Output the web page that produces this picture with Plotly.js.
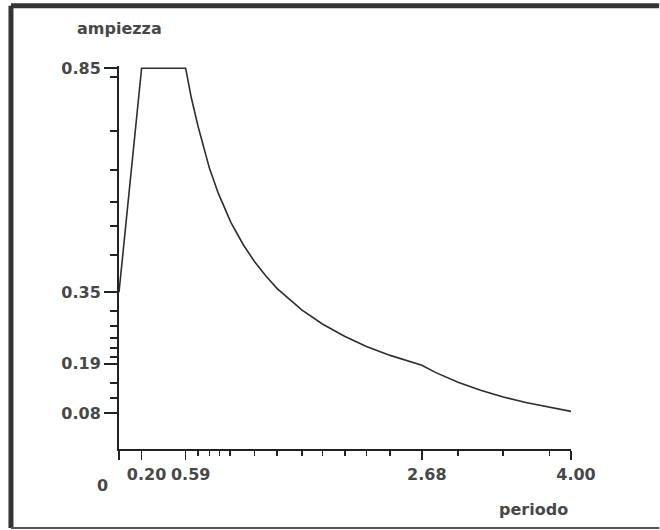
<!DOCTYPE html>
<html>
<head>
<meta charset="utf-8">
<script src="https://cdn.plot.ly/plotly-3.0.1.min.js"></script>
<style>
  html, body { margin: 0; padding: 0; background: #ffffff; }
  #chart { width: 660px; height: 530px; }
</style>
</head>
<body>
<div id="chart"></div>
<script>
// Period values (s)
const periodo = [0.00, 0.20, 0.59, 0.64, 0.70, 0.80, 0.88, 0.99, 1.10, 1.20, 1.30, 1.40, 1.62, 1.80, 2.00, 2.19, 2.40, 2.68, 2.80, 3.00, 3.20, 3.40, 3.60, 3.81, 4.00];
// Spectral amplitude
const ampiezza = [0.35, 0.85, 0.85, 0.784, 0.72, 0.627, 0.57, 0.506, 0.456, 0.418, 0.386, 0.358, 0.31, 0.279, 0.251, 0.229, 0.209, 0.187, 0.171, 0.149, 0.131, 0.116, 0.104, 0.093, 0.084];

// Axis ticks
const xTickVals = [0, 0.20, 0.59, 2.68, 4.00];
const xTickText = ['', '0.20', '0.59', '2.68', '4.00'];
const xMinorVals = [0.70, 0.80, 0.89, 0.98, 1.20, 1.40, 1.62, 1.80, 2.00, 2.19, 2.40, 3.00, 3.40, 3.81];
const yTickVals = [0.08, 0.19, 0.35, 0.85];
const yTickText = ['0.08', '0.19', '0.35', '0.85'];
const yMinorVals = [0.114, 0.147, 0.205, 0.225, 0.248, 0.275, 0.308, 0.433, 0.498, 0.551, 0.623, 0.71, 0.83];

const txtFont = { family: '"DejaVu Sans", Verdana, sans-serif', size: 16, color: '#484848', weight: 'bold' };

const trace = {
  x: periodo,
  y: ampiezza,
  type: 'scatter',
  mode: 'lines',
  line: { color: '#2e2e2e', width: 1.6 },
  hoverinfo: 'x+y'
};

const layout = {
  width: 660,
  height: 530,
  margin: { l: 119, r: 89, t: 66, b: 81 },
  paper_bgcolor: '#ffffff',
  plot_bgcolor: '#ffffff',
  showlegend: false,
  font: txtFont,
  xaxis: {
    range: [0, 4.0],
    showgrid: false,
    zeroline: false,
    showline: true,
    linecolor: '#222',
    linewidth: 2,
    ticks: 'outside',
    ticklen: 9,
    tickwidth: 1.6,
    tickcolor: '#222',
    tickmode: 'array',
    tickvals: xTickVals,
    ticktext: xTickText,
    tickfont: txtFont,
    ticklabelshift: 5,
    ticklabelstandoff: 1,
    minor: { tickmode: 'array', tickvals: xMinorVals, ticks: 'outside', ticklen: 5, tickwidth: 1.6, tickcolor: '#222', showgrid: false },
    fixedrange: true
  },
  yaxis: {
    range: [0, 0.855],
    showgrid: false,
    zeroline: false,
    showline: true,
    linecolor: '#222',
    linewidth: 2,
    ticks: 'outside',
    ticklen: 13,
    tickwidth: 1.6,
    tickcolor: '#222',
    tickmode: 'array',
    tickvals: yTickVals,
    ticktext: yTickText,
    tickfont: txtFont,
    ticklabelstandoff: 0,
    minor: { tickmode: 'array', tickvals: yMinorVals, ticks: 'outside', ticklen: 7, tickwidth: 1.6, tickcolor: '#222', showgrid: false },
    fixedrange: true
  },
  annotations: [
    { text: 'ampiezza', xref: 'paper', yref: 'paper', x: 0.0, y: 1.099, xanchor: 'center', yanchor: 'middle', showarrow: false, font: txtFont },
    { text: 'periodo', xref: 'paper', yref: 'paper', x: 0.998, y: -0.157, xanchor: 'right', yanchor: 'middle', showarrow: false, font: txtFont },
    { text: '0', xref: 'paper', yref: 'paper', x: -0.0365, y: -0.094, xanchor: 'center', yanchor: 'middle', showarrow: false, font: txtFont }
  ],
  shapes: [
    { type: 'line', xref: 'paper', yref: 'paper', x0: -0.239, x1: 1.195, y0: 1.157, y1: 1.157, line: { color: '#333', width: 5 } },
    { type: 'line', xref: 'paper', yref: 'paper', x0: -0.239, x1: -0.239, y0: 1.157, y1: -0.206, line: { color: '#333', width: 5 } },
    { type: 'line', xref: 'paper', yref: 'paper', x0: -0.239, x1: 1.195, y0: -0.206, y1: -0.206, line: { color: '#555', width: 2 } }
  ]
};

Plotly.newPlot('chart', [trace], layout, { staticPlot: true, displayModeBar: false });
</script>
</body>
</html>
